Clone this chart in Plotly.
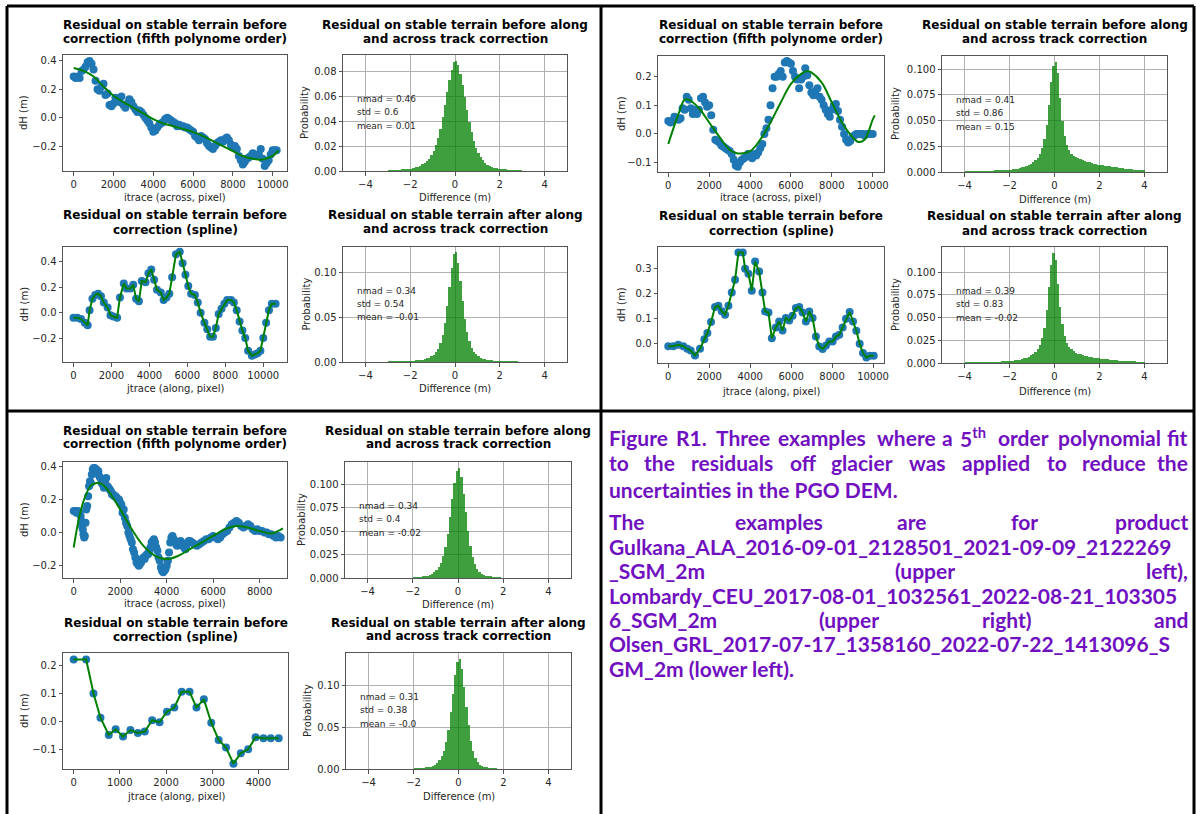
import numpy as np
import plotly.graph_objects as go

W, H = 1196, 814

# ---------------- DATA ----------------
# Panel 1 (Gulkana) - across-track residuals, fifth order polynomial
s1_x = [0,100,200,300,400,500,600,700,800,900,1000,1100,1200,1300,1400,1500,1600,1700,1800,1900,
        2000,2100,2200,2300,2400,2500,2600,2700,2800,2900,3000,3100,3200,3300,3400,3500,3600,3700,3800,3900,
        4000,4100,4200,4300,4400,4500,4600,4700,4800,4900,5000,5100,5200,5300,5400,5500,5600,5700,5800,5900,
        6000,6100,6200,6300,6400,6500,6600,6700,6800,6900,7000,7100,7200,7300,7400,7500,7600,7700,7800,7900,
        8000,8100,8200,8300,8400,8500,8600,8700,8800,8900,9000,9100,9200,9300,9400,9500,9600,9700,9800,9900,
        10000,10100,10200]
s1_y = [0.29,0.28,0.29,0.28,0.33,0.34,0.36,0.39,0.40,0.38,0.34,0.26,0.20,0.19,0.22,0.24,0.16,0.17,0.09,0.08,
        0.10,0.14,0.12,0.11,0.15,0.09,0.07,0.10,0.13,0.11,0.08,0.06,0.04,0.05,0.04,0.02,0.00,-0.02,-0.04,-0.07,
        -0.10,-0.09,-0.07,-0.05,-0.04,-0.03,-0.01,0.00,-0.01,-0.02,-0.03,-0.04,-0.06,-0.05,-0.06,-0.06,-0.07,-0.07,-0.08,-0.09,
        -0.10,-0.13,-0.14,-0.16,-0.13,-0.14,-0.15,-0.18,-0.20,-0.21,-0.22,-0.20,-0.18,-0.17,-0.16,-0.17,-0.15,-0.14,-0.16,-0.19,
        -0.21,-0.20,-0.22,-0.27,-0.30,-0.33,-0.31,-0.29,-0.28,-0.27,-0.25,-0.26,-0.27,-0.26,-0.22,-0.29,-0.34,-0.32,-0.30,-0.26,
        -0.23,-0.23,-0.23]
p1_x = [0,500,1000,1500,2000,2500,3000,3500,4000,4500,5000,5500,6000,6500,7000,7500,8000,8500,9000,9500,10000,10300]
p1_y = [0.35,0.33,0.29,0.22,0.155,0.11,0.07,0.03,-0.01,-0.04,-0.06,-0.08,-0.10,-0.13,-0.165,-0.20,-0.235,-0.27,-0.29,-0.295,-0.27,-0.23]

# Panel 1 - along-track residuals, spline
s2_x = [0,200,400,600,750,850,1000,1150,1300,1450,1600,1800,1950,2100,2300,2450,2650,2800,3000,3150,
        3300,3450,3600,3800,3950,4100,4250,4400,4600,4750,4900,5050,5200,5400,5600,5750,5900,6050,6200,6400,
        6550,6700,6900,7050,7200,7350,7500,7650,7800,7950,8100,8300,8450,8600,8750,8900,9050,9200,9400,9550,
        9700,9850,10000,10150,10300,10450,10650]
s2_y = [-0.04,-0.04,-0.05,-0.08,-0.10,0.02,0.11,0.14,0.15,0.13,0.08,0.04,-0.02,-0.03,-0.04,0.12,0.23,0.19,0.19,0.22,
        0.11,0.09,0.25,0.24,0.31,0.34,0.26,0.18,0.16,0.10,0.12,0.15,0.28,0.46,0.48,0.39,0.30,0.21,0.15,0.14,
        0.08,0.00,-0.08,-0.13,-0.19,-0.19,-0.12,-0.01,0.03,0.07,0.10,0.10,0.08,0.02,-0.07,-0.14,-0.20,-0.30,-0.34,-0.33,
        -0.32,-0.30,-0.20,-0.08,0.02,0.07,0.07]

# Panel 2 (Lombardy) - across-track, polynomial
s3_x = list(range(0, 10100, 100))
s3_y = [0.045,0.04,0.045,0.06,0.055,0.05,0.055,0.09,0.085,0.13,0.12,0.09,0.07,0.085,0.07,0.085,0.125,0.13,0.11,0.095,
        0.10,0.065,0.015,-0.02,-0.025,-0.03,-0.04,-0.045,-0.05,-0.055,-0.06,-0.07,-0.09,-0.11,-0.115,-0.10,-0.09,-0.085,-0.08,-0.07,
        -0.075,-0.085,-0.07,-0.075,-0.065,-0.05,-0.035,0.0,0.02,0.05,0.10,0.16,0.20,0.20,0.21,0.22,0.20,0.25,0.255,0.25,
        0.245,0.22,0.20,0.19,0.16,0.19,0.20,0.23,0.205,0.17,0.145,0.135,0.15,0.16,0.13,0.12,0.10,0.085,0.07,0.06,
        0.085,0.10,0.105,0.08,0.05,0.025,0.0,-0.02,-0.03,-0.025,-0.01,-0.005,0.0,0.0,0.0,0.0,-0.005,0.0,0.0,0.0,
        0.0]
p3_x = [0,500,800,1000,1500,2000,2500,3000,3400,4000,4500,5000,5500,6000,6500,6800,7000,7500,8000,8500,9000,9300,9600,10000,10100]
p3_y = [-0.035,0.07,0.12,0.12,0.09,0.04,-0.01,-0.055,-0.068,-0.06,-0.02,0.04,0.11,0.175,0.21,0.22,0.215,0.18,0.11,0.04,-0.01,-0.028,-0.02,0.05,0.065]

# Panel 2 - along-track, spline
s4_x = [0,245,490,734,930,1093,1305,1550,1762,1909,2088,2284,2447,2610,2773,2936,3100,3263,3426,3638,
        3752,3915,4078,4241,4437,4600,4731,4894,5057,5253,5416,5579,5742,5905,6069,6232,6395,6558,6721,6884,
        7047,7210,7374,7537,7700,7863,8026,8189,8352,8515,8679,8858,9021,9184,9347,9510,9674,9837,10033]
s4_y = [-0.01,-0.01,-0.004,-0.01,-0.02,-0.027,-0.047,-0.02,0.018,0.043,0.087,0.147,0.152,0.13,0.116,0.152,0.205,0.256,0.365,0.365,
        0.30,0.28,0.212,0.329,0.289,0.205,0.129,0.125,0.022,0.065,0.089,0.053,0.103,0.093,0.112,0.143,0.147,0.125,0.089,0.129,
        0.103,0.029,-0.011,-0.021,-0.007,0.009,0.009,0.029,0.036,0.065,0.10,0.127,0.089,0.052,0.0,-0.037,-0.055,-0.048,-0.048]

# Panel 3 (Olsen) - across-track, polynomial
s5_x = [0,60,120,180,240,300,330,360,390,420,450,480,510,540,580,620,660,700,740,780,
        820,860,900,940,980,1020,1060,1100,1150,1200,1250,1300,1350,1400,1450,1500,1550,1600,1650,1700,
        1750,1800,1850,1900,1950,2000,2050,2100,2150,2200,2250,2300,2350,2400,2450,2500,2550,2600,2650,2700,
        2750,2800,2850,2900,2950,3000,3050,3100,3150,3200,3250,3300,3350,3400,3450,3500,3550,3600,3650,3700,
        3750,3800,3850,3900,3950,4000,4050,4100,4150,4200,4250,4300,4350,4400,4450,4500,4550,4600,4650,4700,
        4750,4800,4850,4900,4950,5000,5100,5200,5300,5400,5500,5600,5700,5800,5900,6000,6100,6200,6300,6400,
        6500,6600,6700,6800,6900,7000,7100,7200,7300,7400,7500,7600,7700,7800,7900,8000,8100,8200,8300,8400,
        8500,8600,8700,8800,8900]
s5_y = [0.13,0.13,0.12,0.13,0.12,0.10,0.07,0.04,0.02,-0.01,-0.03,-0.02,0.06,0.14,0.16,0.22,0.28,0.31,0.30,0.35,
        0.38,0.39,0.39,0.38,0.38,0.36,0.37,0.34,0.33,0.30,0.29,0.27,0.30,0.33,0.28,0.27,0.26,0.25,0.23,0.23,
        0.22,0.22,0.21,0.20,0.20,0.18,0.17,0.12,0.14,0.09,0.06,0.04,0.00,-0.02,-0.04,-0.06,-0.10,-0.12,-0.15,-0.18,
        -0.19,-0.20,-0.19,-0.18,-0.16,-0.15,-0.16,-0.14,-0.13,-0.13,-0.11,-0.09,-0.06,-0.05,-0.04,-0.06,-0.09,-0.11,-0.15,-0.17,
        -0.21,-0.23,-0.24,-0.23,-0.22,-0.20,-0.17,-0.12,-0.06,-0.03,-0.02,-0.04,-0.05,-0.07,-0.08,-0.07,-0.06,-0.05,-0.07,-0.08,
        -0.09,-0.10,-0.08,-0.06,-0.05,-0.05,-0.06,-0.07,-0.08,-0.07,-0.06,-0.05,-0.04,-0.04,-0.03,-0.02,-0.03,-0.04,-0.03,-0.01,
        0.00,0.01,0.03,0.05,0.06,0.07,0.06,0.04,0.03,0.04,0.05,0.04,0.02,0.01,0.02,0.01,0.01,0.00,0.00,-0.01,
        -0.01,-0.02,-0.03,-0.02,-0.03]
p5_x = [0,250,500,750,1000,1250,1500,2000,2500,3000,3500,4000,4500,5000,5500,6000,6500,7000,7500,8000,8500,8800,9000]
p5_y = [-0.09,0.10,0.22,0.285,0.30,0.29,0.25,0.14,0.02,-0.08,-0.14,-0.16,-0.14,-0.10,-0.06,-0.02,0.02,0.04,0.03,0.01,-0.005,0.01,0.025]

# Panel 3 - along-track, spline
s6_x = [0,270,430,580,760,910,1070,1230,1390,1540,1700,1860,2020,2180,2340,2510,2660,2820,2980,3140,
        3300,3460,3620,3780,3940,4110,4270,4440]
s6_y = [0.22,0.22,0.10,0.014,-0.047,-0.027,-0.053,-0.03,-0.04,-0.035,0.005,-0.002,0.035,0.05,0.106,0.106,0.05,0.079,-0.004,-0.065,
        -0.092,-0.149,-0.112,-0.098,-0.055,-0.059,-0.059,-0.059]

# Histograms: probability per 0.1 m bin
bin_w = 0.1
h1_start = -3.0
h1 = [0.0003,0.0004,0.0005,0.0006,0.0007,0.0008,0.0010,0.0012,0.0014,0.0017,0.0020,0.0024,0.0029,0.0035,0.0043,0.0053,0.0065,0.0080,0.0100,0.0125,
      0.0160,0.0205,0.0265,0.0340,0.0430,0.0530,0.0630,0.0730,0.0810,0.0870,0.0884,0.0850,0.0780,0.0690,0.0590,0.0490,0.0395,0.0310,0.0240,0.0185,
      0.0142,0.0110,0.0085,0.0066,0.0052,0.0041,0.0033,0.0026,0.0021,0.0017,0.0014,0.0011,0.0009,0.0008,0.0007,0.0006,0.0005,0.0004,0.0003,0.0002]
h2_start = -3.0
h2 = [0.0001,0.0001,0.0002,0.0002,0.0003,0.0003,0.0004,0.0005,0.0006,0.0007,0.0009,0.0011,0.0013,0.0016,0.0020,0.0025,0.0031,0.0039,0.0050,0.0064,
      0.0083,0.0110,0.0150,0.0210,0.0300,0.0430,0.0620,0.0830,0.1040,0.1200,0.1217,0.1100,0.0900,0.0680,0.0480,0.0330,0.0230,0.0160,0.0115,0.0085,
      0.0063,0.0048,0.0037,0.0029,0.0023,0.0018,0.0014,0.0011,0.0009,0.0007,0.0005,0.0004,0.0003,0.0002,0.0002,0.0001,0.0001,0.0001,0.0,0.0]
h3_start = -4.0
h3 = [0.0003,0.0003,0.0003,0.0004,0.0004,0.0004,0.0005,0.0005,0.0006,0.0006,0.0007,0.0008,0.0009,0.0010,0.0011,0.0012,0.0014,0.0016,0.0018,0.0020,
      0.0023,0.0026,0.0030,0.0034,0.0039,0.0045,0.0052,0.0060,0.0070,0.0082,0.0097,0.0116,0.0140,0.0175,0.0230,0.0320,0.0460,0.0650,0.0880,0.1030,
      0.1075,0.0960,0.0720,0.0500,0.0350,0.0260,0.0210,0.0180,0.0160,0.0145,0.0133,0.0123,0.0114,0.0106,0.0099,0.0093,0.0087,0.0082,0.0077,0.0073,
      0.0069,0.0065,0.0061,0.0058,0.0055,0.0052,0.0049,0.0046,0.0043,0.0040,0.0037,0.0034,0.0031,0.0028,0.0025,0.0022,0.0019,0.0016,0.0013,0.0010]
h4_start = -4.0
h4 = [0.0001,0.0001,0.0001,0.0002,0.0002,0.0002,0.0003,0.0003,0.0004,0.0004,0.0005,0.0006,0.0007,0.0008,0.0009,0.0010,0.0012,0.0014,0.0016,0.0019,
      0.0022,0.0025,0.0029,0.0033,0.0038,0.0044,0.0051,0.0060,0.0071,0.0085,0.0102,0.0125,0.0155,0.0200,0.0270,0.0390,0.0580,0.0830,0.1080,0.1214,
      0.1130,0.0870,0.0610,0.0425,0.0300,0.0225,0.0180,0.0150,0.0130,0.0115,0.0103,0.0094,0.0086,0.0079,0.0073,0.0068,0.0063,0.0059,0.0055,0.0051,
      0.0048,0.0045,0.0042,0.0039,0.0036,0.0034,0.0031,0.0029,0.0027,0.0025,0.0023,0.0021,0.0019,0.0017,0.0015,0.0013,0.0011,0.0009,0.0007,0.0005]
h5_start = -2.0
h5 = [0.0002,0.0004,0.0006,0.0009,0.0013,0.0018,0.0025,0.0034,0.0046,0.0062,0.0085,0.0115,0.0160,0.0230,0.0330,0.0470,0.0650,0.0840,0.1020,0.1140,
      0.1180,0.1080,0.0900,0.0700,0.0500,0.0340,0.0225,0.0150,0.0100,0.0068,0.0047,0.0033,0.0023,0.0016,0.0011,0.0007,0.0004,0.0002,0.0001,0.0]
h6_start = -2.0
h6 = [0.0001,0.0002,0.0004,0.0006,0.0009,0.0013,0.0019,0.0027,0.0038,0.0053,0.0075,0.0105,0.0150,0.0220,0.0320,0.0470,0.0680,0.0900,0.1120,0.1280,
      0.1320,0.1200,0.0980,0.0740,0.0520,0.0340,0.0210,0.0130,0.0082,0.0052,0.0034,0.0022,0.0014,0.0008,0.0004,0.0002,0.0001,0.0,0.0,0.0]

stats1 = ["nmad = 0.46", "std = 0.6", "mean = 0.01"]
stats2 = ["nmad = 0.34", "std = 0.54", "mean = -0.01"]
stats3 = ["nmad = 0.41", "std = 0.86", "mean = 0.15"]
stats4 = ["nmad = 0.39", "std = 0.83", "mean = -0.02"]
stats5 = ["nmad = 0.34", "std = 0.4", "mean = -0.02"]
stats6 = ["nmad = 0.31", "std = 0.38", "mean = -0.0"]

title_poly = ["Residual on stable terrain before", "correction (fifth polynome order)"]
title_spline = ["Residual on stable terrain before", "correction (spline)"]
title_hbefore = ["Residual on stable terrain before along", "and across track correction"]
title_hafter = ["Residual on stable terrain after along", "and across track correction"]
xlab_across = "itrace (across, pixel)"
xlab_along = "jtrace (along, pixel)"
xlab_diff = "Difference (m)"
ylab_dh = "dH (m)"
ylab_prob = "Probability"

tick_10k = [0, 2000, 4000, 6000, 8000, 10000]
tick_8k = [0, 2000, 4000, 6000, 8000]
tick_4k = [0, 1000, 2000, 3000, 4000]
tick_diff = [-4, -2, 0, 2, 4]
tick_diff_txt = ["\u22124", "\u22122", "0", "2", "4"]
yt_a = [-0.2, 0.0, 0.2, 0.4]; yt_a_txt = ["\u22120.2", "0.0", "0.2", "0.4"]
yt_b = [-0.1, 0.0, 0.1, 0.2]; yt_b_txt = ["\u22120.1", "0.0", "0.1", "0.2"]
yt_c = [0.0, 0.1, 0.2, 0.3]; yt_c_txt = ["0.0", "0.1", "0.2", "0.3"]
yh_a = [0, 0.02, 0.04, 0.06, 0.08]; yh_a_txt = ["0.00", "0.02", "0.04", "0.06", "0.08"]
yh_b = [0, 0.05, 0.10]; yh_b_txt = ["0.00", "0.05", "0.10"]
yh_c = [0, 0.025, 0.05, 0.075, 0.1]; yh_c_txt = ["0.000", "0.025", "0.050", "0.075", "0.100"]

caption_lines = [
    ["Figure", "R1.", "Three", "examples", "where", "a", "5<sup>th</sup>", "order", "polynomial", "fit"],
    ["to", "the", "residuals", "off", "glacier", "was", "applied", "to", "reduce", "the"],
    ["uncertainties in the PGO DEM."],
    ["The", "examples", "are", "for", "product"],
    ["Gulkana_ALA_2016-09-01_2128501_2021-09-09_2122269"],
    ["_SGM_2m", "(upper", "left),"],
    ["Lombardy_CEU_2017-08-01_1032561_2022-08-21_103305"],
    ["6_SGM_2m", "(upper", "right)", "and"],
    ["Olsen_GRL_2017-07-17_1358160_2022-07-22_1413096_S"],
    ["GM_2m (lower left)."],
]

# ---------------- LAYOUT (pixel positions) ----------------
cap_x = [
    [607, 674, 714, 776, 875, 940, 958, 996, 1056, None],
    [607, 642, 689, 788, 829, 907, 960, 1045, 1080, None],
    [607], [607, 733, 895, 1009, None], [607], [607, 893, None], [607], [607, 817, 980, None], [607], [607],
]
cap_y = [437, 462, 489, 521, 546, 570, 595, 619, 643, 668]

GREEN = "#008000"
BLUE = "#1f77b4"
SPINE = "#555555"
TXT = "#262626"
FONT = "DejaVu Sans"
PURPLE = "#7010c0"

fig = go.Figure()
layout = dict(width=W, height=H, margin=dict(l=0, r=0, t=0, b=0),
              paper_bgcolor="white", plot_bgcolor="white", showlegend=False,
              bargap=0, template="none")
annotations = []
shapes = []


def fx(px):
    return px / W


def fy(py):
    return 1 - py / H


def add_axes(i, box, xr, yr, xt, xtt, yt, ytt, grid):
    x0, x1, y0, y1 = box
    xk = "xaxis" if i == 1 else f"xaxis{i}"
    yk = "yaxis" if i == 1 else f"yaxis{i}"
    common = dict(showgrid=grid, gridcolor="#b0b0b0", gridwidth=1, zeroline=False,
                  showline=True, mirror=True, linecolor=SPINE, linewidth=1,
                  ticks="outside", ticklen=3.5, tickwidth=1, tickcolor=SPINE,
                  tickfont=dict(family=FONT, size=10, color=TXT), fixedrange=True)
    layout[xk] = dict(domain=[fx(x0), fx(x1)], anchor=f"y{i}", range=xr,
                      tickmode="array", tickvals=xt, ticktext=xtt, **common)
    layout[yk] = dict(domain=[fy(y1), fy(y0)], anchor=f"x{i}", range=yr,
                      tickmode="array", tickvals=yt, ticktext=ytt, **common)


def add_text(x, y, text, size=10, bold=False, angle=0, xanchor="center", color=TXT, family=FONT):
    annotations.append(dict(x=x, y=y, xref="paper", yref="paper", text=(f"<b>{text}</b>" if bold else text),
                            showarrow=False, xanchor=xanchor, yanchor="middle", textangle=angle,
                            font=dict(family=family, size=size, color=color)))


def scatter_panel(i, box, xs, ys, lx, ly, xr, yr, xt, yt, ytt, title, xlab, title_y, xlab_y, ylab_x):
    add_axes(i, box, xr, yr, xt, [str(v) for v in xt], yt, ytt, False)
    fig.add_trace(go.Scatter(x=xs, y=ys, mode="markers", xaxis=f"x{i}", yaxis=f"y{i}",
                             marker=dict(color=BLUE, size=8, line=dict(width=0))))
    shape = "spline" if lx is not xs else "linear"
    fig.add_trace(go.Scatter(x=lx, y=ly, mode="lines", xaxis=f"x{i}", yaxis=f"y{i}",
                             line=dict(color=GREEN, width=2, shape=shape)))
    cx = (box[0] + box[1]) / 2
    add_text(fx(cx), fy(title_y[0]), title[0], size=12, bold=True, color="black")
    add_text(fx(cx), fy(title_y[1]), title[1], size=12, bold=True, color="black")
    add_text(fx(cx), fy(xlab_y), xlab, size=10)
    add_text(fx(ylab_x), fy((box[2] + box[3]) / 2), ylab_dh, size=10, angle=-90)


def hist_panel(i, box, start, vals, yt, ytt, stats, title, title_y, xlab_y, ylab_x):
    top = max(vals) * 1.05
    add_axes(i, box, [-5, 5], [0, top], tick_diff, tick_diff_txt, yt, ytt, True)
    centers = start + bin_w * (np.arange(len(vals)) + 0.5)
    fig.add_trace(go.Bar(x=centers, y=vals, width=bin_w, xaxis=f"x{i}", yaxis=f"y{i}",
                         marker=dict(color=GREEN, line=dict(width=0)), opacity=0.75))
    cx = (box[0] + box[1]) / 2
    add_text(fx(cx), fy(title_y[0]), title[0], size=12, bold=True, color="black")
    add_text(fx(cx), fy(title_y[1]), title[1], size=12, bold=True, color="black")
    add_text(fx(cx), fy(xlab_y), xlab_diff, size=10)
    add_text(fx(ylab_x), fy((box[2] + box[3]) / 2), ylab_prob, size=10, angle=-90)
    hgt = box[3] - box[2]
    for k, frac in enumerate([0.62, 0.505, 0.39]):
        add_text(fx(box[0] + 0.053 * (box[1] - box[0])), fy(box[3] - frac * hgt), stats[k],
                 size=9, xanchor="left")


# Panel 1
scatter_panel(1, (63, 287, 55, 171), s1_x, s1_y, p1_x, p1_y, [-535, 10720], [-0.376, 0.442],
              tick_10k, yt_a, yt_a_txt, title_poly, xlab_across, (25, 39), 198, 24)
hist_panel(2, (343, 567, 55, 171), h1_start, h1, yh_a, yh_a_txt, stats1, title_hbefore, (25, 39), 197, 305)
scatter_panel(3, (63, 287, 247, 362), s2_x, s2_y, s2_x, s2_y, [-550, 11250], [-0.389, 0.518],
              tick_10k, yt_a, yt_a_txt, title_spline, xlab_along, (215, 230), 388, 24)
hist_panel(4, (343, 567, 247, 362), h2_start, h2, yh_b, yh_b_txt, stats2, title_hafter, (215, 229), 388, 306)
# Panel 2
scatter_panel(5, (658, 884, 56, 172), s3_x, s3_y, p3_x, p3_y, [-504, 10553], [-0.133, 0.2725],
              tick_10k, yt_b, yt_b_txt, title_poly, xlab_across, (25, 39), 198, 621)
hist_panel(6, (942, 1167, 56, 172), h3_start, h3, yh_c, yh_c_txt, stats3, title_hbefore, (25, 39), 199, 895)
scatter_panel(7, (658, 884, 247, 363), s4_x, s4_y, s4_x, s4_y, [-502, 10535], [-0.077, 0.387],
              tick_10k, yt_c, yt_c_txt, title_spline, xlab_along, (216, 231), 391, 621)
hist_panel(8, (942, 1167, 247, 363), h4_start, h4, yh_c, yh_c_txt, stats4, title_hafter, (216, 231), 391, 895)
# Panel 3
scatter_panel(9, (63, 287, 462, 578), s5_x, s5_y, p5_x, p5_y, [-460, 9174], [-0.274, 0.426],
              tick_8k, yt_a, yt_a_txt, title_poly, xlab_across, (431, 444), 603, 24)
hist_panel(10, (345, 571, 462, 578), h5_start, h5, yh_c, yh_c_txt, stats5, title_hbefore, (431, 444), 604, 301)
scatter_panel(11, (63, 288, 653, 769), s6_x, s6_y, s6_x, s6_y, [-231, 4642], [-0.168, 0.2434],
              tick_4k, yt_b, yt_b_txt, title_spline, xlab_along, (623, 637), 796, 24)
hist_panel(12, (346, 571, 653, 769), h6_start, h6, yh_b, yh_b_txt, stats6, title_hafter, (623, 636), 796, 307)

# Caption
for words, xs, yc in zip(caption_lines, cap_x, cap_y):
    for w, xp in zip(words, xs):
        if xp is None:
            add_text(fx(1190), fy(yc), w, size=21, bold=True, xanchor="right", color=PURPLE, family="Lato")
        else:
            add_text(fx(xp), fy(yc), w, size=21, bold=True, xanchor="left", color=PURPLE, family="Lato")

# Frame lines
for (xa, ya, xb, yb) in [(7, 6, 1194, 6), (7, 6, 7, 814), (1194, 6, 1194, 814), (601, 6, 601, 814),
                         (7, 411, 1194, 411)]:
    shapes.append(dict(type="line", xref="paper", yref="paper", x0=fx(xa), y0=fy(ya), x1=fx(xb), y1=fy(yb),
                       line=dict(color="black", width=3)))

layout["annotations"] = annotations
layout["shapes"] = shapes
fig.update_layout(**layout)
fig.write_html("out.html", config={"displayModeBar": False},
               post_script="document.body.style.margin='0';document.body.style.padding='0';"
                           "document.documentElement.style.overflow='hidden';")
